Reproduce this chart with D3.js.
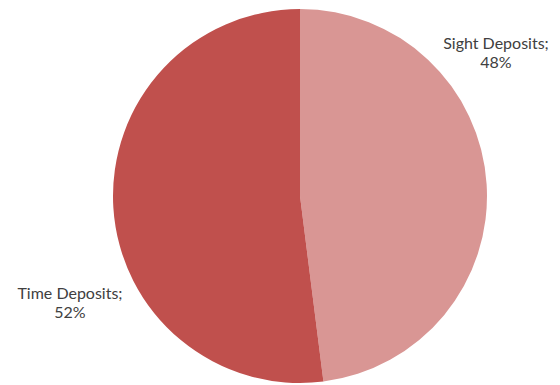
<!DOCTYPE html>
<html>
<head>
<meta charset="utf-8">
<script src="https://cdn.jsdelivr.net/npm/d3@7"></script>
<style>
  html, body { margin: 0; padding: 0; background: #ffffff; }
  svg { display: block; }
  text { font-family: Lato, "Open Sans", sans-serif; fill: #404040; }
</style>
</head>
<body>
<svg id="chart" width="560" height="385"></svg>
<script>
// Deposit structure
const categories = ["Sight Deposits", "Time Deposits"];
const shares = [48, 52];
const colors = ["#D99694", "#C0504D"];

const width = 560, height = 385;
const cx = 300, cy = 196, radius = 187;

const svg = d3.select("#chart");
const g = svg.append("g").attr("transform", `translate(${cx},${cy})`);

const data = categories.map((c, i) => ({ name: c, value: shares[i], color: colors[i] }));

const pie = d3.pie().sort(null).value(d => d.value);
const arc = d3.arc().innerRadius(0).outerRadius(radius);

const arcs = pie(data);

g.selectAll("path.slice")
  .data(arcs)
  .join("path")
  .attr("class", "slice")
  .attr("d", arc)
  .attr("fill", d => d.data.color);

// Labels sit just outside the pie, two lines each: name and share
const labelPos = [
  { x: 496, y: 49 },
  { x: 70, y: 299 }
];

const labels = svg.selectAll("text.label")
  .data(arcs)
  .join("text")
  .attr("class", "label")
  .attr("text-anchor", "middle")
  .attr("font-size", 16)
  .attr("x", (d, i) => labelPos[i].x)
  .attr("y", (d, i) => labelPos[i].y);

labels.append("tspan")
  .attr("x", (d, i) => labelPos[i].x)
  .text(d => d.data.name + ";");

labels.append("tspan")
  .attr("x", (d, i) => labelPos[i].x)
  .attr("dy", 18.5)
  .text(d => d.data.value + "%");
</script>
</body>
</html>
